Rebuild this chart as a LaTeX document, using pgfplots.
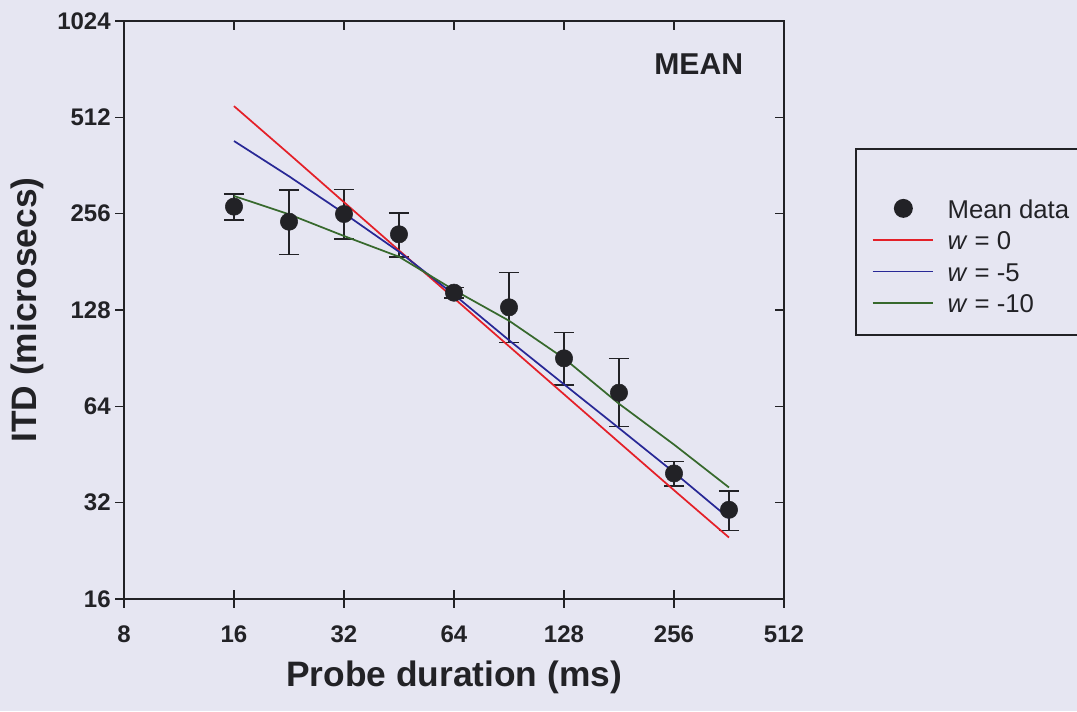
\documentclass[border=0pt]{standalone}
\usepackage{pgfplots}
\pgfplotsset{compat=1.18}
\usepackage{pgfplotstable}
\usepackage{fontspec}
\setmainfont{Liberation Sans}

\definecolor{pagebg}{RGB}{230,230,242}
\definecolor{ink}{RGB}{34,34,38}
\definecolor{fitred}{RGB}{228,32,40}
\definecolor{fitblue}{RGB}{40,40,150}
\definecolor{fitgreen}{RGB}{55,105,45}

\pgfplotsset{
  fitline/.style={line width=1.3pt, no marks,
    legend image code/.code={\draw[##1] (0pt,2.5pt) -- (45pt,2.5pt);}},
  meanpts/.style={only marks, mark=*, mark size=6.5pt, color=ink,
    legend image code/.code={\path (0pt,0pt) (45pt,0pt);
      \draw[only marks, mark=*, mark size=6.5pt, ink] plot coordinates {(23pt,2.5pt)};}},
}

% mean ITD thresholds with asymmetric error bars (upper / lower extent)
\pgfplotstableread{
x      y      ep    em
16     269.3  25.0  24.7
22.63  241.6  61.9  50.5
32     255.4  49.6  42.1
45.25  220.7  36.0  32.9
64     145.0   5.5   5.3
90.51  130.5  37.0  29.3
128     90.4  18.6  15.7
181.0   70.6  19.6  15.3
256     39.5   3.5   3.4
362.0   30.4   4.4   4.2
}\meandata

% model predictions for three values of w
\pgfplotstableread{
x      w0     w5     w10
16     555    431.8  290.7
22.63  393.6  335    254.8
32     278    256.7  218
45.25  196.6  194.7  187.8
64     139.3  143    147.8
90.51   98.6  103    118.5
128     69.8   75     90.4
181.0   49.4   54.7   65.2
256     35.0   39.8   48.6
362.0   24.9   28.6   35.7
}\fits

\begin{document}
\begin{tikzpicture}
\fill[pagebg] (-93pt,-84pt) rectangle (714.75pt,449.25pt);

\begin{axis}[
  at={(0,0)}, anchor=south west,
  scale only axis, width=495pt, height=433.5pt,
  xmode=log, ymode=log, log basis x=2, log basis y=2,
  xmin=8, xmax=512, ymin=16, ymax=1024,
  xtick={8,16,32,64,128,256,512},
  xticklabels={8,16,32,64,128,256,512},
  ytick={16,32,64,128,256,512,1024},
  yticklabels={16,32,64,128,256,512,1024},
  minor xtick={}, minor ytick={},
  xtick pos=left, ytick pos=left,
  tick align=outside, major tick length=6.5pt,
  axis line style={ink, line width=1.2pt},
  tick style={ink, line width=1.2pt},
  /pgf/number format/assume math mode=true,
  ticklabel style={font=\fontsize{18}{21}\selectfont\bfseries, text=ink},
  xticklabel shift=10pt, yticklabel shift=0pt,
  xlabel={Probe duration (ms)}, ylabel={ITD (microsecs)},
  every axis x label/.style={at={(axis description cs:0.5,-0.135)}, anchor=center,
    font=\fontsize{26.5}{30}\selectfont\bfseries, text=ink},
  every axis y label/.style={at={(axis description cs:-0.1462,0.5)}, rotate=90, anchor=center,
    font=\fontsize{26.5}{30}\selectfont\bfseries, text=ink},
  legend style={at={(1.1076,0.7803)}, anchor=north west, draw=ink, line width=1.2pt,
    fill=none, inner xsep=12pt, inner ysep=12pt,
    font=\fontsize{19.3}{22}\selectfont, text=ink, row sep=5.2pt,
    nodes={inner sep=0pt, text height=14pt, text depth=4.5pt},
    /tikz/every odd column/.append style={column sep=10.5pt}},
  legend cell align=left,
]
\addlegendimage{empty legend}
\addlegendentry[text height=16.25pt]{\mbox{}}

\addplot[meanpts,
  error bars/.cd, y dir=both, y explicit,
  error bar style={line width=1.2pt, ink},
  error mark options={rotate=90, mark size=7.5pt, line width=1.2pt, ink}]
  table[x=x, y=y, y error plus=ep, y error minus=em]{\meandata};
\addlegendentry{Mean data}

\addplot[fitred, fitline] table[x=x, y=w0]{\fits};
\addlegendentry{\textit{w} = 0}

\addplot[fitblue, fitline] table[x=x, y=w5]{\fits};
\addlegendentry{\textit{w} = -5}

\addplot[fitgreen, fitline] table[x=x, y=w10]{\fits};
\addlegendentry{\textit{w} = -10}

\node[anchor=base east, inner sep=0pt, font=\fontsize{22.6}{26}\selectfont\bfseries, text=ink]
  at (rel axis cs:0.9383,0.9066) {MEAN};
\end{axis}

% inward ticks along the top, right and bottom edges
\begin{axis}[
  at={(0,0)}, anchor=south west,
  scale only axis, width=495pt, height=433.5pt,
  xmode=log, ymode=log, log basis x=2, log basis y=2,
  xmin=8, xmax=512, ymin=16, ymax=1024,
  xtick={8,16,32,64,128,256,512},
  ytick={16,32,64,128,256,512,1024},
  xticklabels={}, yticklabels={},
  minor xtick={}, minor ytick={},
  xtick pos=both, ytick pos=right,
  tick align=inside, major tick length=7pt,
  axis line style={ink, line width=1.2pt},
  tick style={ink, line width=1.2pt},
]
\end{axis}

\pgfresetboundingbox
\path[use as bounding box] (-93pt,-84pt) rectangle (714.75pt,449.25pt);
\end{tikzpicture}
\end{document}
